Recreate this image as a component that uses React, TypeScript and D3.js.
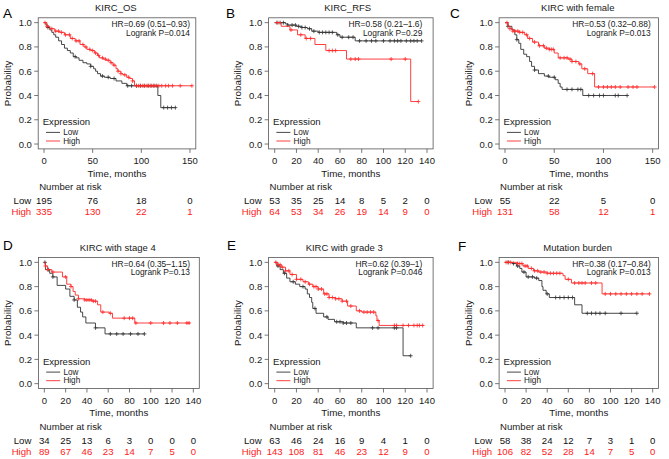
import React from "react";
import * as d3 from "d3";

// ---------- DATA ----------
const letters = ["A", "B", "C", "D", "E", "F"];
const titles = ["KIRC_OS", "KIRC_RFS", "KIRC with female", "KIRC with stage 4", "KIRC with grade 3", "Mutation burden"];
const hrTexts = ["HR=0.69 (0.51–0.93)", "HR=0.58 (0.21–1.6)", "HR=0.53 (0.32–0.88)", "HR=0.64 (0.35–1.15)", "HR=0.62 (0.39–1)", "HR=0.38 (0.17–0.84)"];
const pTexts = ["Logrank P=0.014", "Logrank P=0.29", "Logrank P=0.013", "Logrank P=0.13", "Logrank P=0.046", "Logrank P=0.013"];
const xMaxes = [150, 140, 150, 140, 140, 140];
const ticks150 = [0, 50, 100, 150];
const ticks140 = [0, 20, 40, 60, 80, 100, 120, 140];
const yTicks = [0, 0.2, 0.4, 0.6, 0.8, 1.0];

const aLow = [[0,1],[2,0.98],[4,0.96],[6,0.94],[8,0.92],[10,0.90],[12,0.88],[15,0.85],[18,0.82],[21,0.79],[24,0.77],[27,0.75],[30,0.72],[33,0.71],[36,0.69],[40,0.67],[44,0.66],[48,0.64],[51,0.62],[53,0.60],[55,0.58],[58,0.56],[62,0.55],[68,0.54],[74,0.52],[80,0.50],[85,0.48],[117,0.40],[120,0.30],[135,0.30]];
const aHigh = [[0,1],[3,0.97],[6,0.95],[11,0.93],[16,0.92],[21,0.90],[27,0.87],[32,0.85],[37,0.82],[41,0.80],[44,0.78],[48,0.77],[52,0.75],[55,0.73],[57,0.71],[61,0.70],[64,0.69],[68,0.67],[71,0.65],[74,0.62],[76,0.60],[79,0.58],[81,0.57],[85,0.55],[88,0.54],[91,0.52],[93,0.48],[152,0.48]];
const aLowCens = [4,32,48,60,66,72,86,90,95,99,103,107,110,113,116,123,127,131,135];
const aHighCens = [1,3,8,12,15,18,22,26,29,33,36,40,43,47,50,53,56,60,63,66,69,72,76,79,83,87,91,95,97,99,101,103,105,107,109,111,113,115,118,121,125,128,132,140,152];

const bLow = [[0,1],[10,0.99],[12,0.98],[20,0.97],[25,0.96],[30,0.95],[34,0.93],[40,0.92],[57,0.90],[60,0.88],[74,0.85],[135,0.85]];
const bHigh = [[0,1],[6,0.97],[14,0.94],[21,0.90],[28,0.87],[37,0.82],[47,0.77],[66,0.70],[125,0.35],[132,0.35]];
const bLowCens = [2,5,8,12,16,19,22,25,28,32,36,41,44,47,50,53,58,62,68,72,78,84,89,93,100,106,110,113,116,121,125,128,131,135];
const bHighCens = [3,15,24,29,33,50,53,56,70,74,77,107,120,132];

const cLow = [[0,1],[3,0.97],[7,0.94],[10,0.90],[12,0.86],[14,0.83],[16,0.78],[19,0.74],[22,0.72],[25,0.68],[27,0.64],[30,0.61],[34,0.58],[40,0.56],[45,0.55],[51,0.53],[54,0.50],[56,0.47],[58,0.45],[79,0.40],[124,0.40]];
const cHigh = [[0,1],[3,0.97],[5,0.95],[8,0.93],[15,0.92],[20,0.90],[23,0.87],[28,0.84],[34,0.81],[40,0.79],[45,0.78],[50,0.75],[54,0.71],[64,0.70],[68,0.68],[75,0.66],[78,0.62],[84,0.58],[91,0.47],[152,0.47]];
const cLowCens = [3,12,30,44,50,63,68,74,77,85,90,96,100,112,115,124];
const cHighCens = [2,5,8,10,13,15,18,22,25,30,35,39,42,45,47,49,56,60,63,66,68,72,76,81,89,95,100,104,108,112,117,125,130,134,152];

const dLow = [[0,1],[1,0.94],[5,0.91],[8,0.88],[12,0.81],[20,0.78],[24,0.72],[28,0.69],[31,0.63],[34,0.59],[36,0.55],[39,0.50],[48,0.46],[57,0.41],[94,0.41]];
const dHigh = [[0,1],[1,0.97],[3,0.94],[7,0.92],[17,0.88],[21,0.82],[25,0.80],[27,0.76],[29,0.73],[32,0.70],[38,0.69],[45,0.68],[50,0.65],[53,0.59],[61,0.58],[64,0.54],[85,0.50],[137,0.50]];
const dLowCens = [0.5,4,8,28,48,62,68,74,81,88,94];
const dHighCens = [1,3,8,20,25,32,38,40,42,44,46,48,55,62,75,80,83,86,100,112,118,125,134,136];

const eLow = [[0,1],[2,0.97],[5,0.94],[8,0.91],[11,0.87],[14,0.84],[19,0.82],[23,0.80],[28,0.78],[30,0.74],[32,0.71],[34,0.67],[35,0.62],[38,0.58],[45,0.55],[49,0.53],[55,0.51],[63,0.50],[75,0.46],[118,0.23],[125,0.23]];
const eHigh = [[0,1],[3,0.98],[6,0.96],[10,0.93],[14,0.90],[20,0.86],[26,0.84],[31,0.82],[35,0.80],[40,0.78],[45,0.74],[50,0.71],[56,0.70],[62,0.68],[67,0.64],[75,0.60],[80,0.59],[93,0.56],[94,0.52],[96,0.48],[137,0.48]];
const eLowCens = [3,9,17,26,37,48,57,60,63,66,70,90,95,110,112,125];
const eHighCens = [1,3,5,7,10,13,16,20,24,28,32,36,38,40,43,46,48,50,53,56,59,62,66,70,78,82,85,88,91,95,110,112,118,123,128,131,133,136];

const fLow = [[0,1],[7,0.99],[11,0.97],[14,0.95],[16,0.92],[20,0.88],[28,0.87],[32,0.85],[35,0.80],[36,0.77],[39,0.74],[42,0.71],[66,0.65],[73,0.58],[125,0.58]];
const fHigh = [[0,1],[12,0.99],[17,0.97],[22,0.95],[27,0.93],[32,0.92],[40,0.91],[55,0.89],[57,0.86],[63,0.83],[92,0.74],[137,0.74]];
const fLowCens = [3,8,12,18,22,26,30,40,48,52,56,60,64,78,82,86,90,95,110,125];
const fHighCens = [1,3,5,12,14,16,19,21,25,28,31,34,37,40,43,46,49,52,60,66,70,73,76,82,86,95,100,105,110,115,120,125,130,137];

const riskLow = [
  [195, 76, 18, 0],
  [53, 35, 25, 14, 8, 5, 2, 0],
  [55, 22, 5, 0],
  [34, 25, 13, 6, 3, 0, 0, 0],
  [63, 46, 24, 16, 9, 4, 1, 0],
  [58, 38, 24, 12, 7, 3, 1, 0],
];
const riskHigh = [
  [335, 130, 22, 1],
  [64, 53, 34, 26, 19, 14, 9, 0],
  [131, 58, 12, 1],
  [89, 67, 46, 23, 14, 7, 5, 0],
  [143, 108, 81, 46, 23, 12, 9, 0],
  [106, 82, 52, 28, 14, 7, 5, 0],
];

const lowCurves = [aLow, bLow, cLow, dLow, eLow, fLow];
const highCurves = [aHigh, bHigh, cHigh, dHigh, eHigh, fHigh];
const lowCensors = [aLowCens, bLowCens, cLowCens, dLowCens, eLowCens, fLowCens];
const highCensors = [aHighCens, bHighCens, cHighCens, dHighCens, eHighCens, fHighCens];

// ---------- LAYOUT ----------
const layout = [
  { L: 38.2, R: 195.8, T: 17.8, B: 148.9, hrR: 190, titleX: 115.8, lx: 3, ly: 13 },
  { L: 268.6, R: 433.1, T: 17.8, B: 148.9, hrR: 422.3, titleX: 347.7, lx: 226, ly: 13 },
  { L: 499.1, R: 658.6, T: 17.8, B: 148.9, hrR: 650.7, titleX: 577.8, lx: 450, ly: 13 },
  { L: 38.4, R: 199.3, T: 257.5, B: 388.5, hrR: 190, titleX: 117.7, lx: 3, ly: 245 },
  { L: 268.6, R: 433.1, T: 257.5, B: 388.5, hrR: 422.3, titleX: 344.2, lx: 227, ly: 245 },
  { L: 499.1, R: 658.6, T: 257.5, B: 388.5, hrR: 650.7, titleX: 577.7, lx: 458, ly: 246.5 },
];

const FONT = "'Liberation Sans', Arial, Helvetica, sans-serif";
const LOWC = "#333333";
const HIGHC = "#ff2a2a";
const TEXTRED = "#ff2020";
const INK = "#1a1a1a";

function survAt(steps: number[][], t: number) {
  let s = 1;
  for (const p of steps) {
    if (p[0] <= t) s = p[1];
    else break;
  }
  return s;
}

function Panel({ i }: { i: number }) {
  const lay = layout[i];
  const xMax = xMaxes[i];
  const x = d3.scaleLinear().domain([-0.04 * xMax, 1.04 * xMax]).range([lay.L, lay.R]);
  const y = d3.scaleLinear().domain([-0.04, 1.04]).range([lay.B, lay.T]);
  const xt = xMax === 150 ? ticks150 : ticks140;
  const line = d3
    .line<number[]>()
    .x((d) => x(d[0]))
    .y((d) => y(d[1]))
    .curve(d3.curveStepAfter);
  const cens = (steps: number[][], ts: number[]) =>
    ts
      .map((t) => {
        const cx = x(t), cy = y(survAt(steps, t));
        return `M${cx - 2},${cy}h4M${cx},${cy - 2}v4`;
      })
      .join("");
  const fs = 9.5;
  return (
    <g fontFamily={FONT}>
      <text x={lay.lx} y={lay.ly} fontSize={13.5} dominantBaseline="central" fill="#000">{letters[i]}</text>
      <text x={lay.titleX} y={lay.T - 10} fontSize={9.5} textAnchor="middle" dominantBaseline="central" fill={INK}>{titles[i]}</text>
      {/* curves */}
      <path d={line(lowCurves[i] as any) || ""} fill="none" stroke={LOWC} strokeWidth={0.9} />
      <path d={cens(lowCurves[i], lowCensors[i])} fill="none" stroke={LOWC} strokeWidth={0.8} />
      <path d={line(highCurves[i] as any) || ""} fill="none" stroke={HIGHC} strokeWidth={0.9} />
      <path d={cens(highCurves[i], highCensors[i])} fill="none" stroke={HIGHC} strokeWidth={0.8} />
      {/* box */}
      <rect x={lay.L} y={lay.T} width={lay.R - lay.L} height={lay.B - lay.T} fill="none" stroke="#555" strokeWidth={0.8} />
      {/* y axis */}
      {yTicks.map((v) => (
        <g key={"y" + v}>
          <line x1={lay.L - 4} x2={lay.L} y1={y(v)} y2={y(v)} stroke="#555" strokeWidth={0.8} />
          <text x={lay.L - 6.3} y={y(v)} fontSize={fs} textAnchor="end" dominantBaseline="central" fill={INK}>{v.toFixed(1)}</text>
        </g>
      ))}
      <text transform={`translate(${lay.L - 31},${(lay.T + lay.B) / 2}) rotate(-90)`} fontSize={9.8} textAnchor="middle" dominantBaseline="central" fill={INK}>Probability</text>
      {/* x axis */}
      {xt.map((v) => (
        <g key={"x" + v}>
          <line x1={x(v)} x2={x(v)} y1={lay.B} y2={lay.B + 4} stroke="#555" strokeWidth={0.8} />
          <text x={x(v)} y={lay.B + 11.8} fontSize={fs} textAnchor="middle" dominantBaseline="central" fill={INK}>{v}</text>
        </g>
      ))}
      <text x={(lay.L + lay.R) / 2} y={lay.B + 24.3} fontSize={9.8} textAnchor="middle" dominantBaseline="central" fill={INK}>Time, months</text>
      {/* HR */}
      <text x={lay.hrR} y={lay.T + 6.3} fontSize={8.4} textAnchor="end" dominantBaseline="central" fill={INK}>{hrTexts[i]}</text>
      <text x={lay.hrR} y={lay.T + 14.8} fontSize={8.4} textAnchor="end" dominantBaseline="central" fill={INK}>{pTexts[i]}</text>
      {/* legend */}
      <text x={lay.L + 4.5} y={lay.T + 103.8} fontSize={9.6} dominantBaseline="central" fill={INK}>Expression</text>
      <line x1={lay.L + 7.8} x2={lay.L + 21.8} y1={lay.T + 114.6} y2={lay.T + 114.6} stroke={LOWC} strokeWidth={0.9} />
      <text x={lay.L + 25} y={lay.T + 114.6} fontSize={8.2} dominantBaseline="central" fill={INK}>Low</text>
      <line x1={lay.L + 7.8} x2={lay.L + 21.8} y1={lay.T + 123.2} y2={lay.T + 123.2} stroke={HIGHC} strokeWidth={0.9} />
      <text x={lay.L + 25} y={lay.T + 123.2} fontSize={8.2} dominantBaseline="central" fill={INK}>High</text>
      {/* risk table */}
      <text x={lay.L + 1} y={lay.B + 38} fontSize={9.6} dominantBaseline="central" fill={INK}>Number at risk</text>
      <text x={lay.L - 7} y={lay.B + 52} fontSize={9.6} textAnchor="end" dominantBaseline="central" fill="#111">Low</text>
      <text x={lay.L - 7} y={lay.B + 62.8} fontSize={9.6} textAnchor="end" dominantBaseline="central" fill={TEXTRED}>High</text>
      {xt.map((v, k) => (
        <g key={"r" + v}>
          <text x={x(v)} y={lay.B + 52} fontSize={9.6} textAnchor="middle" dominantBaseline="central" fill="#111">{riskLow[i][k]}</text>
          <text x={x(v)} y={lay.B + 62.8} fontSize={9.6} textAnchor="middle" dominantBaseline="central" fill={TEXTRED}>{riskHigh[i][k]}</text>
        </g>
      ))}
    </g>
  );
}

export default function App() {
  return (
    <svg width={669} height={459} style={{ position: "absolute", left: 0, top: 0, background: "#fff" }}>
      <rect width={669} height={459} fill="#fff" />
      {letters.map((_, i) => (
        <Panel key={i} i={i} />
      ))}
    </svg>
  );
}
